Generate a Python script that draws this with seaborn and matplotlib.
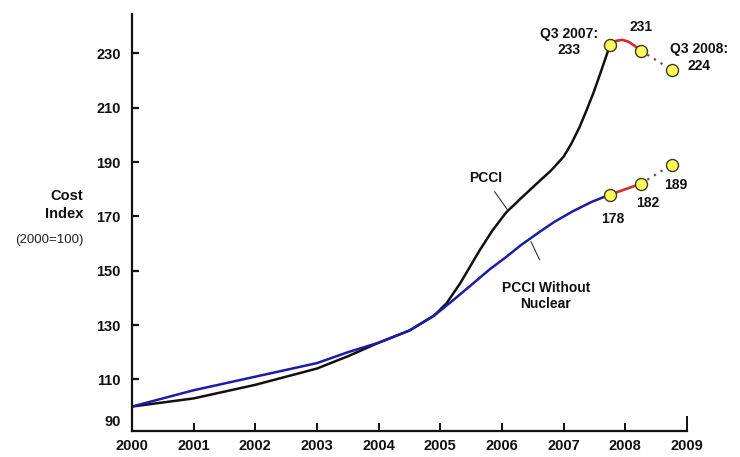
import matplotlib
matplotlib.use("Agg")
import matplotlib.pyplot as plt
import pandas as pd
import seaborn as sns

sns.set_style("white")
plt.rcParams["font.family"] = ["Liberation Sans", "DejaVu Sans"]

# Power Capital Costs Index, 2000 = 100
years_pcci = [2000, 2001, 2002, 2003, 2003.5, 2004, 2004.5, 2004.9, 2005.1,
              2005.32, 2005.64, 2005.85, 2006.07, 2006.3, 2006.56, 2006.8,
              2007.0, 2007.13, 2007.26, 2007.37, 2007.48, 2007.6, 2007.75]
pcci = [100, 103, 108, 114, 118.5, 123.5, 128, 133.5, 138,
        145.3, 157.6, 165, 171.5, 176.5, 182, 187,
        192, 197, 203, 209, 215.3, 223, 233]

years_nonuc = [2000, 2001, 2002, 2003, 2003.5, 2004, 2004.5, 2004.9, 2005.2,
               2005.53, 2005.8, 2006.07, 2006.3, 2006.61, 2006.85, 2007.15,
               2007.45, 2007.75]
pcci_nonuc = [100, 106, 111, 116, 120, 123.5, 128, 133.5, 139,
              145.3, 150.5, 155.1, 159.3, 164.3, 168, 171.9,
              175.3, 178]

# Latest quarterly readings (Q3 2007, Q1 2008, Q3 2008)
recent_years = [2007.75, 2008.25, 2008.75]
pcci_recent = [233, 231, 224]
nonuc_recent = [178, 182, 189]

# PCCI path between Q3 2007 and Q1 2008
arc_years = [2007.75, 2007.85, 2007.95, 2008.05, 2008.15, 2008.25]
arc_values = [233, 234.6, 235, 234.3, 232.8, 231]

x_ticks = list(range(2000, 2010))
y_tick_labels = ["90", "110", "130", "150", "170", "190", "210", "230"]
y_tick_values = [94.7, 110, 130, 150, 170, 190, 210, 230]

BLACK = "#111111"
BLUE = "#1c1ca8"
RED = "#d42a2a"
DOT = "#8c3a6c"

fig = plt.figure(figsize=(7.4, 4.57), dpi=100)
ax = fig.add_axes([132 / 740, 1 - 431 / 457, (687 - 132) / 740, (431 - 14) / 457])

df_pcci = pd.DataFrame({"year": years_pcci, "index": pcci})
df_nonuc = pd.DataFrame({"year": years_nonuc, "index": pcci_nonuc})
sns.lineplot(data=df_pcci, x="year", y="index", ax=ax, color=BLACK, lw=1.8)
sns.lineplot(data=df_nonuc, x="year", y="index", ax=ax, color=BLUE, lw=1.8)

# recent movements: solid red for the first half-year, dotted afterwards
sns.lineplot(x=arc_years, y=arc_values, ax=ax, color=RED, lw=1.9)
sns.lineplot(x=recent_years[1:], y=pcci_recent[1:], ax=ax, color=DOT, lw=1.6,
             linestyle=(0, (1, 2.5)))
sns.lineplot(x=recent_years[:2], y=nonuc_recent[:2], ax=ax, color=RED, lw=1.9)
sns.lineplot(x=recent_years[1:], y=nonuc_recent[1:], ax=ax, color=DOT, lw=1.6,
             linestyle=(0, (1, 2.5)))

marker_style = dict(marker="o", s=75, color="#ffff5a", edgecolor="#3a3a20",
                    linewidth=1.0, zorder=5, ax=ax)
sns.scatterplot(x=recent_years, y=pcci_recent, **marker_style)
sns.scatterplot(x=recent_years, y=nonuc_recent, **marker_style)

ax.set_xlim(2000, 2009)
ax.set_ylim(91, 244.5)
ax.set_xticks(x_ticks)
ax.set_xticklabels([str(y) for y in x_ticks])
ax.set_yticks(y_tick_values)
ax.set_yticklabels(y_tick_labels)
ax.set_xlabel("")
ax.set_ylabel("")

for side in ["top", "right"]:
    ax.spines[side].set_visible(False)
for side in ["left", "bottom"]:
    ax.spines[side].set_linewidth(1.6)
    ax.spines[side].set_color(BLACK)

ax.tick_params(axis="x", bottom=True, direction="in", length=6, width=1.4,
               pad=6, labelsize=10.5, colors=BLACK)
ax.tick_params(axis="y", left=True, direction="in", length=5, width=1.6,
               pad=8, labelsize=10.5, colors=BLACK)
for lbl in ax.get_xticklabels() + ax.get_yticklabels():
    lbl.set_fontweight("bold")
ax.yaxis.get_major_ticks()[0].tick1line.set_visible(False)
ax.xaxis.get_major_ticks()[0].tick1line.set_visible(False)
ax.xaxis.get_major_ticks()[-1].tick1line.set_markersize(11)

txt = dict(fontsize=10, fontweight="bold", color=BLACK, ha="center",
           va="center", linespacing=1.25)
ax.text(2007.08, 234.2, "Q3 2007:\n233", **txt)
ax.text(2008.25, 239.8, "231", **txt)
ax.text(2009.2, 228.4, "Q3 2008:\n224", clip_on=False, **txt)
ax.text(2007.8, 168.9, "178", **txt)
ax.text(2008.36, 175.0, "182", **txt)
ax.text(2008.82, 181.5, "189", **txt)

ax.text(2005.73, 184.0, "PCCI", **txt)
ax.plot([2005.88, 2006.09], [179.1, 172.4], color="#333333", lw=0.8)
ax.text(2006.71, 140.7, "PCCI Without\nNuclear", **txt)
ax.plot([2006.47, 2006.61], [160.7, 154.0], color="#333333", lw=0.8)

fig.text(83 / 740, 1 - 205 / 457, "Cost\nIndex", ha="right", va="center",
         fontsize=10.5, fontweight="bold", linespacing=1.3, color=BLACK)
fig.text(83 / 740, 1 - 240 / 457, "(2000=100)", ha="right", va="center",
         fontsize=9.5, color="#222222")

fig.savefig("out.png", dpi=100)
